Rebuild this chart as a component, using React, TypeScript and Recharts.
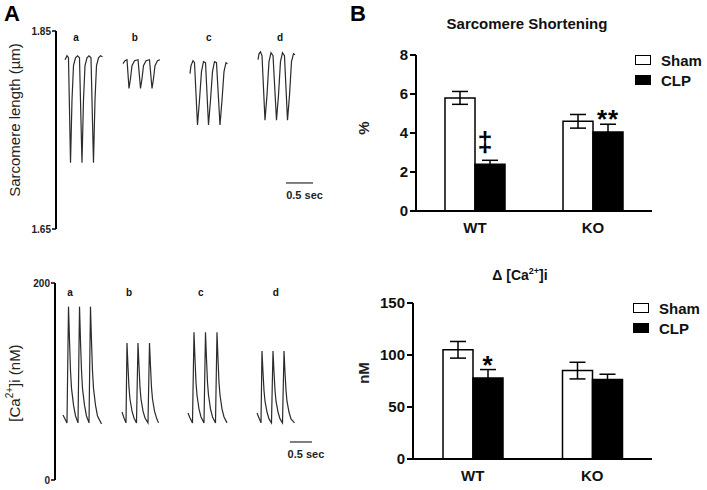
import React from 'react';
import {
  LineChart, Line, XAxis, YAxis, ReferenceLine, ReferenceDot, Label,
  BarChart, Bar, ErrorBar, LabelList, Legend,
} from 'recharts';

const FONT = '"Liberation Sans", Arial, Helvetica, sans-serif';
const INK = '#000';
const TRACE = '#2b2b2b';

// Panel A: sarcomere length traces, [time s, length µm]
const sarcA: [number, number][] = [
  [0.167, 1.821], [0.204, 1.825], [0.231, 1.823], [0.269, 1.717], [0.296, 1.780], [0.324, 1.815],
  [0.361, 1.823], [0.398, 1.825], [0.435, 1.823], [0.481, 1.717], [0.509, 1.780], [0.537, 1.815],
  [0.574, 1.823], [0.611, 1.825], [0.648, 1.823], [0.694, 1.717], [0.722, 1.780], [0.750, 1.815],
  [0.787, 1.823], [0.824, 1.825], [0.861, 1.824],
];
const sarcB: [number, number][] = [
  [1.241, 1.817], [1.278, 1.820], [1.315, 1.821], [1.352, 1.792], [1.380, 1.802], [1.407, 1.815],
  [1.454, 1.820], [1.519, 1.821], [1.565, 1.792], [1.593, 1.802], [1.620, 1.815], [1.667, 1.820],
  [1.731, 1.821], [1.778, 1.792], [1.806, 1.802], [1.833, 1.815], [1.880, 1.820], [1.926, 1.821],
];
const sarcC: [number, number][] = [
  [2.481, 1.807], [2.500, 1.815], [2.537, 1.820], [2.565, 1.818], [2.620, 1.755], [2.657, 1.780],
  [2.694, 1.809], [2.731, 1.819], [2.769, 1.818], [2.824, 1.755], [2.861, 1.780], [2.898, 1.809],
  [2.935, 1.819], [2.972, 1.818], [3.037, 1.755], [3.074, 1.780], [3.111, 1.809], [3.148, 1.818],
  [3.176, 1.817],
];
const sarcD: [number, number][] = [
  [3.741, 1.821], [3.759, 1.827], [3.787, 1.829], [3.815, 1.825], [3.870, 1.760], [3.907, 1.785],
  [3.944, 1.819], [3.981, 1.828], [4.019, 1.825], [4.083, 1.760], [4.120, 1.785], [4.157, 1.819],
  [4.194, 1.828], [4.231, 1.825], [4.287, 1.760], [4.324, 1.785], [4.361, 1.819], [4.398, 1.827],
  [4.426, 1.826],
];

// Panel A: calcium transients, [time s, nM]
const caA: [number, number][] = [
  [0.148, 66], [0.185, 62], [0.222, 58], [0.250, 176], [0.269, 141], [0.287, 111], [0.306, 93],
  [0.343, 76], [0.380, 65], [0.426, 58], [0.454, 176], [0.472, 141], [0.491, 111], [0.509, 93],
  [0.546, 76], [0.583, 65], [0.630, 58], [0.657, 176], [0.676, 141], [0.694, 111], [0.713, 93],
  [0.750, 76], [0.787, 65], [0.861, 57],
];
const caB: [number, number][] = [
  [1.241, 69], [1.278, 63], [1.315, 58], [1.333, 139], [1.352, 115], [1.370, 94], [1.389, 82],
  [1.426, 70], [1.463, 63], [1.509, 58], [1.537, 139], [1.556, 115], [1.574, 94], [1.593, 82],
  [1.630, 70], [1.667, 63], [1.722, 58], [1.750, 139], [1.769, 115], [1.787, 94], [1.806, 82],
  [1.843, 70], [1.880, 63], [1.917, 58],
];
const caC: [number, number][] = [
  [2.463, 68], [2.500, 63], [2.546, 58], [2.574, 150], [2.593, 122], [2.611, 99], [2.630, 86],
  [2.667, 72], [2.704, 64], [2.759, 58], [2.787, 150], [2.806, 122], [2.824, 99], [2.843, 86],
  [2.880, 72], [2.917, 64], [2.972, 58], [3.000, 150], [3.019, 122], [3.037, 99], [3.056, 86],
  [3.093, 72], [3.130, 64], [3.185, 58],
];
const caD: [number, number][] = [
  [3.741, 68], [3.778, 63], [3.815, 58], [3.833, 131], [3.852, 109], [3.870, 91], [3.889, 80],
  [3.926, 69], [3.963, 62], [4.009, 58], [4.037, 131], [4.056, 109], [4.074, 91], [4.093, 80],
  [4.130, 69], [4.167, 62], [4.213, 58], [4.241, 131], [4.259, 109], [4.278, 91], [4.296, 80],
  [4.333, 69], [4.370, 62], [4.435, 58],
];

const traceLetters = ['a', 'b', 'c', 'd'];
const sarcLetterT = [0.37, 1.46, 2.83, 4.15];
const caLetterT = [0.28, 1.37, 2.7, 4.09];

// Panel B
const groups = ['WT', 'KO'];
const seriesOrder = ['Sham', 'CLP'];
const shortSham = [5.8, 4.6];
const shortShamErr = [0.33, 0.35];
const shortClp = [2.4, 4.05];
const shortClpErr = [0.2, 0.4];
const shortSig = ['\u2021', '**'];

const caSham = [105, 85];
const caShamErr = [8, 8];
const caClp = [78, 76.5];
const caClpErr = [8, 5];
const caSig = ['*', ''];

const toPts = (arr: [number, number][]) => arr.map(([t, v]) => ({ t, v }));

const barRows = (sham: number[], shamErr: number[], clp: number[], clpErr: number[], sig: string[]) =>
  groups.map((g, i) => ({ g, sham: sham[i], shamErr: shamErr[i], clp: clp[i], clpErr: clpErr[i], sig: sig[i] }));

// rotated y-axis title, placed from the axis viewBox
const axisTitle = (content: React.ReactNode, x: number, shift: number, size: number, weight: number) =>
  (props: any) => {
    const vb = props.viewBox || { y: 0, height: 0 };
    const cy = vb.y + vb.height / 2 + shift;
    return (
      <text x={x} y={cy} transform={`rotate(-90 ${x} ${cy})`} textAnchor="middle" dominantBaseline="central"
        fontSize={size} fontWeight={weight} fill="#222" fontFamily={FONT}>
        {content}
      </text>
    );
  };

type TraceProps = {
  traces: [number, number][][];
  domain: [number, number];
  fmt: (v: number) => string;
  letterT: number[];
  letterY: number;
  scaleBar: [number, number, number];
  yWidth: number;
  height: number;
  margin: { top: number; right: number; bottom: number; left: number };
  title: (p: any) => React.ReactElement;
};

const TracePanel: React.FC<TraceProps> = ({ traces, domain, fmt, letterT, letterY, scaleBar, yWidth, height, margin, title }) => (
  <LineChart width={350} height={height} margin={margin}>
    <XAxis type="number" dataKey="t" domain={[0, 5]} hide />
    <YAxis type="number" domain={domain} ticks={domain} tickFormatter={fmt} width={yWidth} interval={0}
      allowDataOverflow axisLine={{ stroke: INK, strokeWidth: 2 }} tickLine={{ stroke: INK, strokeWidth: 1.5 }}
      tickSize={4} tickMargin={1} tick={{ fontSize: 10, fontWeight: 700, fill: '#222', fontFamily: FONT }}>
      <Label content={title} />
    </YAxis>
    {traces.map((tr, i) => (
      <Line key={i} data={toPts(tr)} dataKey="v" type="linear" stroke={TRACE} strokeWidth={1.2}
        dot={false} activeDot={false} isAnimationActive={false} />
    ))}
    {traceLetters.map((l, i) => (
      <ReferenceDot key={l} x={letterT[i]} y={letterY} r={2}
        shape={(p: any) => (
          <text x={p.cx} y={p.cy} textAnchor="middle" dominantBaseline="central" fontSize={10}
            fontWeight={700} fill="#111" fontFamily={FONT}>{l}</text>
        )} />
    ))}
    <ReferenceLine segment={[{ x: scaleBar[0], y: scaleBar[2] }, { x: scaleBar[1], y: scaleBar[2] }]}
      stroke={TRACE} strokeWidth={1.2}
      label={{ value: '0.5 sec', position: 'bottom', offset: 8, fontSize: 11, fontWeight: 700, fill: '#222', fontFamily: FONT, dx: 5 }} />
  </LineChart>
);

const SigMark = (props: any) => {
  const { x, y, width, value } = props;
  if (!value) return null;
  const star = String(value).includes('*');
  return (
    <text x={x + width / 2 - (star ? 0 : 5)} y={y - (star ? 4 : 13)} textAnchor="middle" fontSize={star ? 26 : 27}
      fontWeight={700} fill="#000" fontFamily={FONT} letterSpacing={star ? 1 : 0}>{value}</text>
  );
};

const LegendBox = (props: any) => {
  const items = [...(props.payload || [])].sort(
    (a: any, b: any) => seriesOrder.indexOf(a.value) - seriesOrder.indexOf(b.value));
  return (
    <div style={{ fontFamily: FONT, fontWeight: 700, fontSize: 15, color: '#111' }}>
      {items.map((e: any) => (
        <div key={e.value} style={{ display: 'flex', alignItems: 'center', height: 20 }}>
          <span style={{ display: 'inline-block', width: 14, height: 8, border: '1.5px solid #000', background: e.color, marginRight: 10 }} />
          <span>{e.value}</span>
        </div>
      ))}
    </div>
  );
};

type BarProps = {
  data: any[];
  domain: [number, number];
  ticks: number[];
  yWidth: number;
  height: number;
  top: number;
  xHeight: number;
  legendPos: { left: number; top: number };
  title: (p: any) => React.ReactElement;
};

const BarPanel: React.FC<BarProps> = ({ data, domain, ticks, yWidth, height, top, xHeight, legendPos, title }) => (
  <BarChart width={357} height={height} data={data} margin={{ top, right: 55, bottom: 0, left: 0 }} barGap={0}>
    <XAxis dataKey="g" height={xHeight} tickLine={false} tickMargin={5} axisLine={{ stroke: INK, strokeWidth: 2 }}
      tick={{ fontSize: 15, fontWeight: 700, fill: '#111', fontFamily: FONT }} />
    <YAxis domain={domain} ticks={ticks} interval={0} width={yWidth} axisLine={{ stroke: INK, strokeWidth: 2 }}
      tickLine={{ stroke: INK, strokeWidth: 2 }} tickSize={6} tickMargin={2}
      tick={{ fontSize: 15, fontWeight: 700, fill: '#111', fontFamily: FONT }}>
      <Label content={title} />
    </YAxis>
    <Legend layout="vertical" align="center" verticalAlign="middle" content={LegendBox}
      wrapperStyle={{ left: legendPos.left, top: legendPos.top, width: 'auto' }} />
    <Bar dataKey="sham" name="Sham" fill="#fff" stroke="#000" strokeWidth={1.5} barSize={30} isAnimationActive={false}>
      <ErrorBar dataKey="shamErr" width={8} stroke="#000" strokeWidth={1.5} direction="y" isAnimationActive={false} />
    </Bar>
    <Bar dataKey="clp" name="CLP" fill="#000" stroke="#000" strokeWidth={1.5} barSize={30} isAnimationActive={false}>
      <ErrorBar dataKey="clpErr" width={8} stroke="#000" strokeWidth={1.5} direction="y" isAnimationActive={false} />
      <LabelList dataKey="sig" content={SigMark} />
    </Bar>
  </BarChart>
);

const abs = (left: number, top: number): React.CSSProperties => ({ position: 'absolute', left, top });

export default function App() {
  return (
    <div style={{ position: 'absolute', left: 0, top: 0, width: 707, height: 490, background: '#fff', fontFamily: FONT, overflow: 'hidden' }}>
      <div style={{ ...abs(0, 0) }}>
        <TracePanel traces={[sarcA, sarcB, sarcC, sarcD]} domain={[1.65, 1.85]} fmt={(v) => v.toFixed(2)}
          letterT={sarcLetterT} letterY={1.843} scaleBar={[4.26, 4.76, 1.6965]} yWidth={56} height={250}
          margin={{ top: 31, right: 24, bottom: 21, left: 0 }}
          title={axisTitle('Sarcomere length (\u00b5m)', 14, -10, 15, 400)} />
      </div>
      <div style={{ ...abs(0, 250) }}>
        <TracePanel traces={[caA, caB, caC, caD]} domain={[0, 200]} fmt={(v) => String(v)}
          letterT={caLetterT} letterY={190} scaleBar={[4.35, 4.76, 38.6]} yWidth={55} height={240}
          margin={{ top: 33, right: 25, bottom: 10, left: 0 }}
          title={axisTitle(<>[Ca<tspan dy={-5} fontSize={10}>2+</tspan><tspan dy={5}>]i (nM)</tspan></>, 14, 1.5, 15, 400)} />
      </div>
      <div style={{ ...abs(350, 0) }}>
        <BarPanel data={barRows(shortSham, shortShamErr, shortClp, shortClpErr, shortSig)} domain={[0, 8]}
          ticks={[0, 2, 4, 6, 8]} yWidth={66} height={250} top={55} xHeight={39} legendPos={{ left: 285, top: 50 }}
          title={axisTitle('%', 13, -5, 15, 700)} />
      </div>
      <div style={{ ...abs(350, 250) }}>
        <BarPanel data={barRows(caSham, caShamErr, caClp, caClpErr, caSig)} domain={[0, 150]}
          ticks={[0, 50, 100, 150]} yWidth={63} height={240} top={53} xHeight={31} legendPos={{ left: 283, top: 48 }}
          title={axisTitle('nM', 13, -8, 15, 700)} />
      </div>
      <div style={{ ...abs(4, 3), fontSize: 22, fontWeight: 700, lineHeight: 1 }}>A</div>
      <div style={{ ...abs(350, 3), fontSize: 22, fontWeight: 700, lineHeight: 1 }}>B</div>
      <div style={{ ...abs(427, 16), width: 200, textAlign: 'center', fontSize: 15, fontWeight: 700, lineHeight: 1, color: '#111' }}>
        Sarcomere Shortening
      </div>
      <div style={{ ...abs(420, 268), width: 200, textAlign: 'center', fontSize: 14, fontWeight: 700, lineHeight: 1, color: '#111' }}>
        {'\u0394 [Ca'}<sup style={{ fontSize: 9, lineHeight: 0 }}>2+</sup>{']i'}
      </div>
    </div>
  );
}
